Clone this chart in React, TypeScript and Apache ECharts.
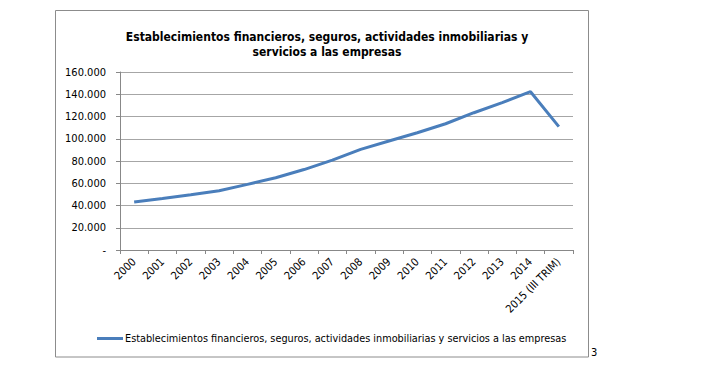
import React, { useEffect, useRef } from "react";
import * as echarts from "echarts";

const categories = [
  "2000", "2001", "2002", "2003", "2004", "2005", "2006", "2007",
  "2008", "2009", "2010", "2011", "2012", "2013", "2014", "2015 (III TRIM)",
];
const values = [
  43200, 46300, 49600, 53300, 59000, 65000, 72300, 80800,
  90500, 98000, 105400, 113500, 123400, 132400, 142300, 110900,
];
const seriesName =
  "Establecimientos financieros, seguros, actividades inmobiliarias y servicios a las empresas";
const titleLines = [
  "Establecimientos financieros, seguros, actividades inmobiliarias y",
  "servicios a las empresas",
];

const FONT = "'Liberation Sans Narrow', 'DejaVu Sans Condensed', 'Liberation Sans', sans-serif";

function fmt(v: number): string {
  if (v === 0) return "-";
  return String(v).replace(/\B(?=(\d{3})+(?!\d))/g, ".");
}

export default function App() {
  const ref = useRef<HTMLDivElement>(null);
  useEffect(() => {
    document.body.style.margin = "0";
    const chart = echarts.init(ref.current!, null, { renderer: "svg" });
    chart.setOption({
      animation: false,
      backgroundColor: "#ffffff",
      title: {
        text: titleLines.join("\n"),
        left: 322,
        textAlign: "center",
        top: 24,
        textStyle: {
          fontFamily: FONT,
          fontSize: 12,
          fontWeight: "bold",
          color: "#000",
          lineHeight: 15,
        },
      },
      grid: { left: 120, right: 139, top: 72, bottom: 127, containLabel: false },
      xAxis: {
        type: "category",
        data: categories,
        boundaryGap: true,
        axisLine: { lineStyle: { color: "#888", width: 1 } },
        axisTick: { show: true, length: 4, lineStyle: { color: "#888" } },
        axisLabel: {
          rotate: 45,
          interval: 0,
          fontFamily: FONT,
          fontSize: 11,
          color: "#000",
          margin: 10,
        },
      },
      yAxis: {
        type: "value",
        min: 0,
        max: 160000,
        interval: 20000,
        axisLine: { show: true, lineStyle: { color: "#888", width: 1 } },
        axisTick: { show: true, length: 4, lineStyle: { color: "#888" } },
        splitLine: { lineStyle: { color: "#a6a6a6", width: 1 } },
        axisLabel: {
          formatter: fmt,
          fontFamily: FONT,
          fontSize: 11,
          color: "#000",
          margin: 14,
        },
      },
      legend: {
        left: 92,
        top: 328,
        icon: "rect",
        itemWidth: 26,
        itemHeight: 3,
        itemGap: 2,
        textStyle: { fontFamily: FONT, fontSize: 10.8, color: "#000", padding: [0, 0, 0, -3] },
        data: [seriesName],
      },
      graphic: [
        {
          type: "rect",
          shape: { x: 55.5, y: 10.5, width: 533, height: 346.5 },
          style: { fill: "none", stroke: "#8c8c8c", lineWidth: 1 },
          silent: true,
        },
        {
          type: "text",
          x: 591,
          y: 347,
          style: { text: "3", fontFamily: FONT, fontSize: 11, fill: "#000" },
        },
      ],
      series: [
        {
          name: seriesName,
          type: "line",
          data: values,
          showSymbol: false,
          symbol: "none",
          lineStyle: { color: "#4a7ebb", width: 3 },
          itemStyle: { color: "#4a7ebb" },
        },
      ],
    });
    return () => chart.dispose();
  }, []);
  return (
    <div
      ref={ref}
      style={{ position: "absolute", left: 0, top: 0, width: 712, height: 377 }}
    />
  );
}
